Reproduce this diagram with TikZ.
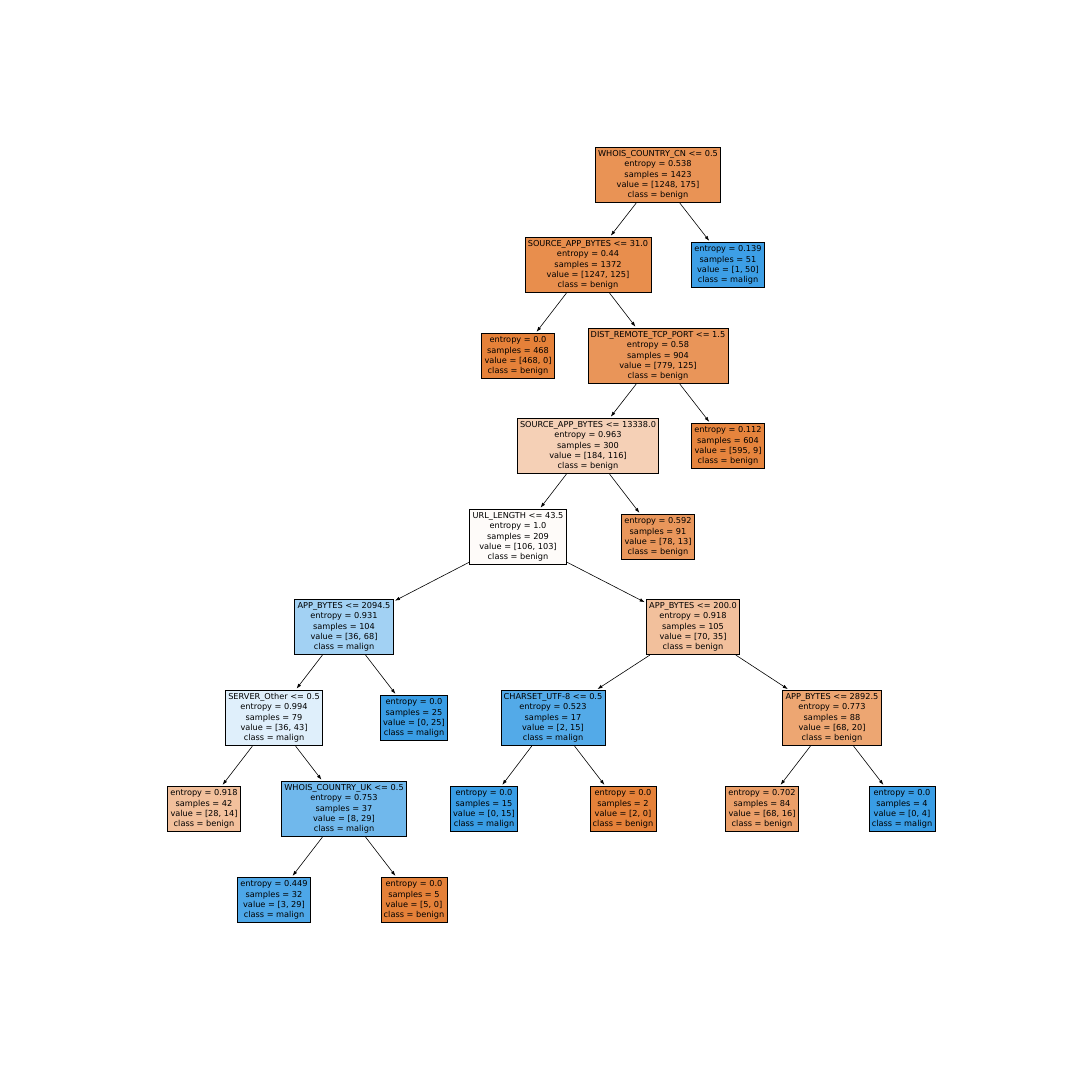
\documentclass[tikz,border=0pt]{standalone}
\usepackage{fontspec}
\setmainfont{DejaVu Sans}
\usetikzlibrary{arrows.meta}

\definecolor{benign}{HTML}{E58139}
\definecolor{malign}{HTML}{399DE5}

\tikzset{
  treenode/.style={draw=black,line width=0.8pt,align=center,inner xsep=2.8pt,inner ysep=3.2pt,
    font=\fontsize{8.2pt}{10.3pt}\selectfont},
  edge/.style={-{Latex[length=5pt,width=3.5pt]},line width=0.6pt,shorten >=1.5pt}
}

\begin{document}
\begin{tikzpicture}[x=1pt,y=-1pt]
  \useasboundingbox[fill=white] (0,0) rectangle (1080,1080);

  % level 0
  \node[treenode,fill=benign!86!white] (root) at (658,175)
    {WHOIS\_COUNTRY\_CN <= 0.5\\entropy = 0.538\\samples = 1423\\value = [1248, 175]\\class = benign};

  % level 1
  \node[treenode,fill=benign!90!white] (sabA) at (588,265)
    {SOURCE\_APP\_BYTES <= 31.0\\entropy = 0.44\\samples = 1372\\value = [1247, 125]\\class = benign};
  \node[treenode,fill=malign!98!white] (cnleaf) at (728,265)
    {entropy = 0.139\\samples = 51\\value = [1, 50]\\class = malign};

  % level 2
  \node[treenode,fill=benign] (sableaf) at (518,356)
    {entropy = 0.0\\samples = 468\\value = [468, 0]\\class = benign};
  \node[treenode,fill=benign!84!white] (tcp) at (658,356)
    {DIST\_REMOTE\_TCP\_PORT <= 1.5\\entropy = 0.58\\samples = 904\\value = [779, 125]\\class = benign};

  % level 3
  \node[treenode,fill=benign!37!white] (sabB) at (588,446)
    {SOURCE\_APP\_BYTES <= 13338.0\\entropy = 0.963\\samples = 300\\value = [184, 116]\\class = benign};
  \node[treenode,fill=benign!98!white] (tcpleaf) at (728,446)
    {entropy = 0.112\\samples = 604\\value = [595, 9]\\class = benign};

  % level 4
  \node[treenode,fill=benign!3!white] (url) at (518,537)
    {URL\_LENGTH <= 43.5\\entropy = 1.0\\samples = 209\\value = [106, 103]\\class = benign};
  \node[treenode,fill=benign!83!white] (sableafB) at (658,537)
    {entropy = 0.592\\samples = 91\\value = [78, 13]\\class = benign};

  % level 5
  \node[treenode,fill=malign!47!white] (abA) at (344,627)
    {APP\_BYTES <= 2094.5\\entropy = 0.931\\samples = 104\\value = [36, 68]\\class = malign};
  \node[treenode,fill=benign!50!white] (abB) at (693,627)
    {APP\_BYTES <= 200.0\\entropy = 0.918\\samples = 105\\value = [70, 35]\\class = benign};

  % level 6
  \node[treenode,fill=malign!16!white] (server) at (274,718)
    {SERVER\_Other <= 0.5\\entropy = 0.994\\samples = 79\\value = [36, 43]\\class = malign};
  \node[treenode,fill=malign] (abAleaf) at (414,718)
    {entropy = 0.0\\samples = 25\\value = [0, 25]\\class = malign};
  \node[treenode,fill=malign!87!white] (charset) at (553,718)
    {CHARSET\_UTF-8 <= 0.5\\entropy = 0.523\\samples = 17\\value = [2, 15]\\class = malign};
  \node[treenode,fill=benign!71!white] (abC) at (832,718)
    {APP\_BYTES <= 2892.5\\entropy = 0.773\\samples = 88\\value = [68, 20]\\class = benign};

  % level 7
  \node[treenode,fill=benign!50!white] (serverleaf) at (204,809)
    {entropy = 0.918\\samples = 42\\value = [28, 14]\\class = benign};
  \node[treenode,fill=malign!72!white] (uk) at (344,809)
    {WHOIS\_COUNTRY\_UK <= 0.5\\entropy = 0.753\\samples = 37\\value = [8, 29]\\class = malign};
  \node[treenode,fill=malign] (charsetA) at (484,809)
    {entropy = 0.0\\samples = 15\\value = [0, 15]\\class = malign};
  \node[treenode,fill=benign] (charsetB) at (623,809)
    {entropy = 0.0\\samples = 2\\value = [2, 0]\\class = benign};
  \node[treenode,fill=benign!76!white] (abCA) at (762,809)
    {entropy = 0.702\\samples = 84\\value = [68, 16]\\class = benign};
  \node[treenode,fill=malign] (abCB) at (902,809)
    {entropy = 0.0\\samples = 4\\value = [0, 4]\\class = malign};

  % level 8
  \node[treenode,fill=malign!90!white] (ukA) at (274,900)
    {entropy = 0.449\\samples = 32\\value = [3, 29]\\class = malign};
  \node[treenode,fill=benign] (ukB) at (414,900)
    {entropy = 0.0\\samples = 5\\value = [5, 0]\\class = benign};

  % edges
  \foreach \p/\c in {root/sabA,root/cnleaf,sabA/sableaf,sabA/tcp,tcp/sabB,tcp/tcpleaf,
      sabB/url,sabB/sableafB,url/abA,url/abB,abA/server,abA/abAleaf,abB/charset,abB/abC,
      server/serverleaf,server/uk,charset/charsetA,charset/charsetB,abC/abCA,abC/abCB,
      uk/ukA,uk/ukB} {
    \draw[edge] (\p) -- (\c);
  }
\end{tikzpicture}
\end{document}
